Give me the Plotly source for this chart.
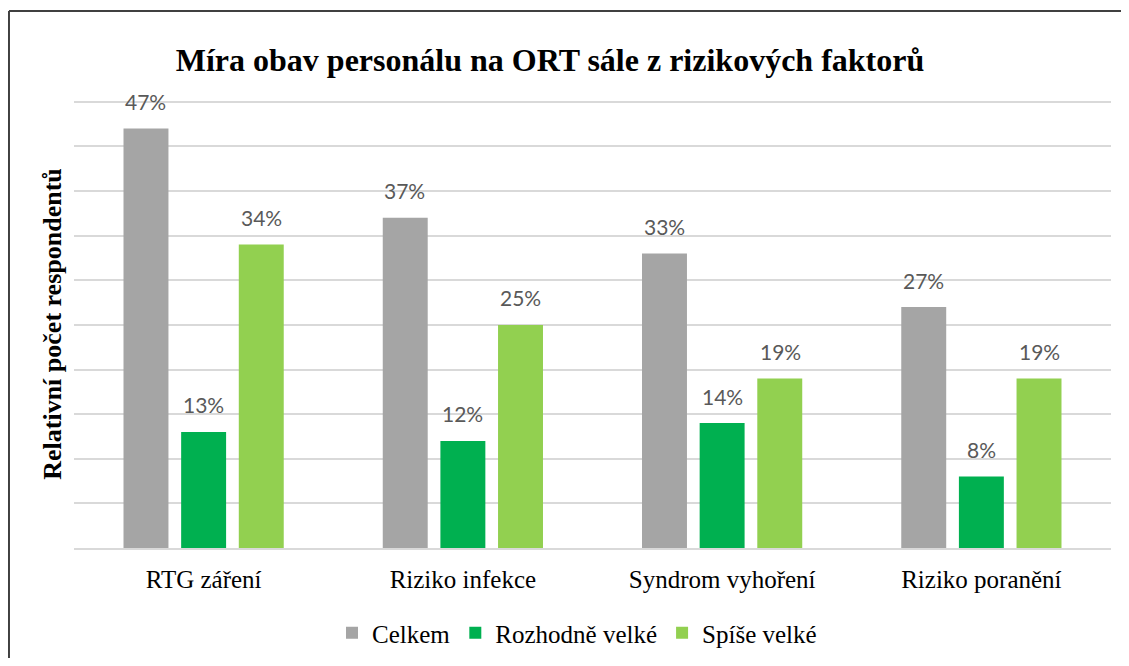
import plotly.graph_objects as go

categories = ["RTG záření", "Riziko infekce", "Syndrom vyhoření", "Riziko poranění"]
series_names = ["Celkem", "Rozhodně velké", "Spíše velké"]
celkem = [47, 37, 33, 27]
rozhodne = [13, 12, 14, 8]
spise = [34, 25, 19, 19]
colors = ["#A5A5A5", "#00B050", "#92D050"]
label_xshift = [-58, 0, 58]

SERIF = "Liberation Serif"
SANS = "Lato"

fig = go.Figure()
all_vals = [celkem, rozhodne, spise]
for name, vals, col in zip(series_names, all_vals, colors):
    fig.add_trace(go.Bar(x=categories, y=vals, name=name, marker_color=col,
                         marker_line_width=0, hoverinfo="skip"))

annotations = []
for vals, dx in zip(all_vals, label_xshift):
    for c, v in zip(categories, vals):
        annotations.append(dict(x=c, y=v, xref="x", yref="y", text=f"{v}%",
                                showarrow=False, xshift=dx, yshift=27,
                                yanchor="middle",
                                font=dict(family=SANS, size=21, color="#595959")))

W, H = 1113, 650
fig.update_layout(
    width=W, height=H,
    margin=dict(l=66, r=10, t=92, b=110, autoexpand=False),
    font=dict(family=SERIF, color="black"),
    paper_bgcolor="white", plot_bgcolor="white",
    barmode="group", bargap=0.333, bargroupgap=0.22,
    title=dict(text="<b>Míra obav personálu na ORT sále z rizikových faktorů</b>",
               x=542 / W, xanchor="center", y=1 - 52 / H, yanchor="middle",
               font=dict(family=SERIF, size=32, color="black")),
    showlegend=True,
    legend=dict(orientation="h", x=569 / W, xanchor="center", xref="container",
                y=1 - 625 / H, yanchor="middle", yref="container",
                font=dict(family=SERIF, size=25, color="black"), itemwidth=30,
                traceorder="normal"),
    annotations=annotations,
    shapes=[
        dict(type="line", xref="paper", yref="paper", x0=-0.0627, x1=1.05,
             y0=1.1987, y1=1.1987, line=dict(color="#404040", width=2)),
        dict(type="line", xref="paper", yref="paper", x0=-0.0627, x1=-0.0627,
             y0=1.1987, y1=-0.3, line=dict(color="#404040", width=2)),
    ],
)
fig.update_yaxes(range=[0, 50.2], tick0=0, dtick=5, showgrid=True, gridcolor="#D9D9D9", gridwidth=1.5,
                 showticklabels=False, zeroline=False, showline=False, ticks="",
                 automargin=False,
                 title=dict(text="<b>Relativní počet respondentů</b>", standoff=3,
                            font=dict(family=SERIF, size=26, color="black")))
fig.update_xaxes(showline=True, linecolor="#D9D9D9", linewidth=1.5, ticks="",
                 automargin=False, ticklabelstandoff=8,
                 tickfont=dict(family=SERIF, size=25, color="black"))

fig.write_html("out.html")
